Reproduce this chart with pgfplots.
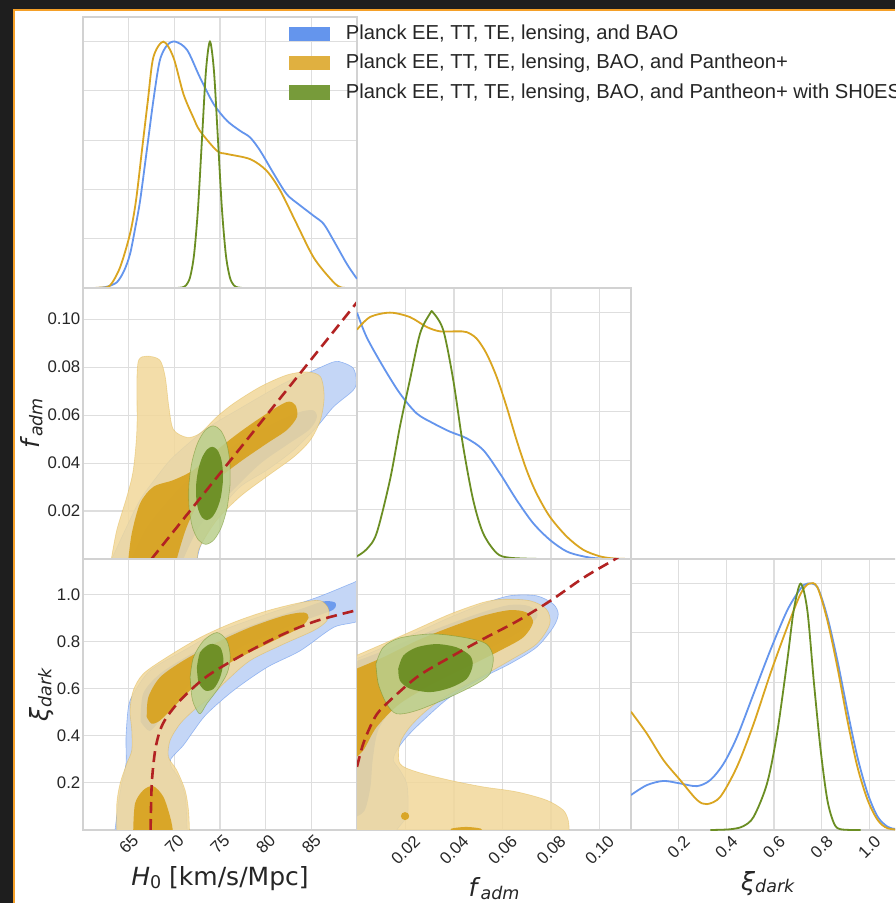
\documentclass[border=0pt]{standalone}
\usepackage{pgfplots}
\pgfplotsset{compat=1.18}
\usepackage{fontspec}
\setmainfont{Liberation Sans}
\newfontfamily\djv{DejaVu Sans}
\definecolor{bgdark}{RGB}{30,30,30}
\definecolor{orframe}{RGB}{245,160,40}
\definecolor{gridc}{RGB}{222,222,222}
\definecolor{framec}{RGB}{210,210,210}
\definecolor{blueL}{RGB}{100,149,237}
\definecolor{blueO}{RGB}{196,214,246}
\definecolor{orL}{RGB}{218,165,32}
\definecolor{orO}{RGB}{241,216,155}
\definecolor{orI}{RGB}{216,161,27}
\definecolor{grL}{RGB}{107,142,35}
\definecolor{grO}{RGB}{186,207,141}
\definecolor{grI}{RGB}{107,142,35}
\definecolor{redd}{RGB}{178,34,34}
\definecolor{legB}{RGB}{100,149,237}
\definecolor{legO}{RGB}{224,176,64}
\definecolor{legG}{RGB}{119,155,58}
\pgfplotsset{
  panel/.style={scale only axis, width=137pt, height=135.5pt, anchor=south west,
    axis line style={draw=framec, line width=0.6pt},
    xmajorgrids, ymajorgrids, major grid style={draw=gridc, line width=0.55pt},
    major tick length=0pt,
    xticklabels={}, yticklabels={},
    tick label style={font=\fontsize{8.4pt}{10pt}\selectfont, text=black!85},
    label style={font=\djv\fontsize{12.5pt}{15pt}\selectfont, text=black!85},
    yticklabel style={anchor=east, inner sep=0pt, xshift=-1.15pt},
    xticklabel style={rotate=45, anchor=center, inner sep=0pt},
    clip=true},
  hx/.style={xmin=60, xmax=90, xtick={65,70,75,80,85}},
  fx/.style={xmin=0, xmax=0.113, xtick={0.02,0.04,0.06,0.08,0.10}},
  kx/.style={xmin=0, xmax=1.15, xtick={0.2,0.4,0.6,0.8,1.0}},
  fy/.style={ymin=0, ymax=0.113, ytick={0.02,0.04,0.06,0.08,0.10}},
  ky/.style={ymin=0, ymax=1.15, ytick={0.2,0.4,0.6,0.8,1.0}},
  dy/.style={ymin=0, ymax=1.1, ytick={0.2,0.4,0.6,0.8,1.0}},
  bo/.style={fill=blueO, draw=blueL, draw opacity=0.6, line width=0.3pt, smooth},
  bi/.style={fill=blueL, fill opacity=0.9, draw=none, smooth},
  oo/.style={fill=orO, fill opacity=0.85, draw=orL, draw opacity=0.35, line width=0.3pt, smooth},
  oi/.style={fill=orI, fill opacity=0.9, draw=none, smooth},
  go/.style={fill=grO, fill opacity=0.85, draw=grL, draw opacity=0.5, line width=0.3pt, smooth},
  gi/.style={fill=grI, fill opacity=0.95, draw=none, smooth},
  rd/.style={draw=redd, line width=1.3pt, dash pattern=on 5.5pt off 3pt, smooth},
  cb/.style={draw=blueL, line width=0.9pt, smooth},
  co/.style={draw=orL, line width=0.9pt, smooth},
  cg/.style={draw=grL, line width=0.9pt, smooth},
}
\begin{document}
\begin{tikzpicture}
\useasboundingbox (0,0) rectangle (447.5pt,451.5pt);
\clip (0,0) rectangle (447.5pt,451.5pt);
\fill[bgdark] (0,0) rectangle (447.5pt,451.5pt);
\fill[orframe] (6.5pt,0) rectangle (447.5pt,447pt);
\fill[white] (7.5pt,0) rectangle (447.5pt,446pt);

% ---------- H0 1D ----------
\begin{axis}[panel, hx, dy, at={(41.5pt,307.5pt)},
  legend style={at={(axis description cs:0.7518,0.9705)}, anchor=north west, draw=none, fill=none,
    inner sep=0pt, outer sep=0pt, row sep=5.85pt, column sep=8.15pt,
    font=\fontsize{10.1pt}{11pt}\selectfont, text=black!85, nodes={inner sep=0pt}},
  legend cell align=left,
  legend image code/.code={\fill[#1, draw=none] (0pt,-3.625pt) rectangle (20.35pt,3.625pt);}]
\addplot[cb, forget plot] coordinates {(60,0) (61.5,0) (62.5,0.004) (63.7,0.023) (64.5,0.07) (65.15,0.138) (65.7,0.24) (66.25,0.354) (66.98,0.557) (67.7,0.76) (68.4,0.922) (69.2,0.985) (70.1,1.0) (71.4,0.966) (72.8,0.855) (74.3,0.747) (75.76,0.679) (77.2,0.638) (78.3,0.611) (79.4,0.557) (80.9,0.463) (82.3,0.381) (83.6,0.34) (85.25,0.293) (86.35,0.26) (87.45,0.192) (88.9,0.097) (90,0.037)};
\addplot[co, forget plot] coordinates {(60,0) (61.1,0) (62.0,0.002) (62.96,0.01) (64.06,0.084) (65.15,0.22) (65.8,0.354) (66.45,0.557) (67.1,0.76) (67.7,0.936) (68.8,1.0) (69.9,0.936) (71.0,0.787) (72.1,0.69) (72.8,0.638) (74.66,0.557) (75.76,0.544) (78.3,0.523) (80.1,0.476) (81.6,0.395) (83.4,0.26) (85.25,0.124) (87.1,0.037) (88.2,0.003) (90,0)};
\addplot[cg, forget plot] coordinates {(69.1,0) (70.42,0.0003) (70.855,0.0022) (71.29,0.0111) (71.725,0.0439) (72.16,0.1353) (72.595,0.3247) (73.03,0.6065) (73.465,0.8825) (73.9,1.0) (74.335,0.8825) (74.77,0.6065) (75.205,0.3247) (75.64,0.1353) (76.075,0.0439) (76.51,0.0111) (76.945,0.0022) (77.38,0.0003) (78.7,0)};
\addlegendimage{fill=legB, draw=none}\addlegendentry{Planck EE, TT, TE, lensing, and BAO}
\addlegendimage{fill=legO, draw=none}\addlegendentry{Planck EE, TT, TE, lensing, BAO, and Pantheon+}
\addlegendimage{fill=legG, draw=none}\addlegendentry{Planck EE, TT, TE, lensing, BAO, and Pantheon+ with SH0ES}
\end{axis}

% ---------- H0 - fadm ----------
\begin{axis}[panel, hx, fy, at={(41.5pt,172pt)},
  yticklabels={0.02,0.04,0.06,0.08,0.10},
  ylabel={\textit{f}\raisebox{-0.1em}{\fontsize{8.75pt}{9pt}\selectfont\textit{adm}}},
  ylabel style={at={(axis description cs:-0.187,0.5)}, anchor=center}]
\addplot[bo] coordinates {(63.15,0) (64.79,0.0135) (66.25,0.0246) (68.08,0.0343) (69.9,0.0426) (73.56,0.0544) (77.2,0.0628) (81.97,0.0732) (84.89,0.078) (87.45,0.0822) (88.5,0.0818) (89.6,0.0795) (89.93,0.0746) (89.6,0.0704) (87.45,0.0635) (85.6,0.0551) (83.06,0.0454) (80.14,0.0371) (77.2,0.0301) (75.02,0.0204) (73.56,0.0107) (72.83,0.0051) (72.5,0) (72.4,-0.004) (63.1,-0.004)} -- cycle;
\addplot[bi] coordinates {(65.3,0) (66.8,0.012) (68.8,0.022) (72,0.035) (76,0.046) (80,0.055) (83.5,0.061) (85.2,0.062) (85.6,0.059) (84.8,0.054) (82.5,0.048) (79.5,0.040) (76.5,0.029) (73,0.015) (71,0) (71,-0.004) (65.3,-0.004)} -- cycle;
\addplot[oo] coordinates {(63.1,0) (63.7,0.0121) (64.8,0.026) (65.5,0.037) (65.9,0.054) (65.9,0.0746) (66.1,0.083) (67.0,0.0846) (68.4,0.083) (69.0,0.076) (69.4,0.0635) (69.9,0.054) (71.4,0.0507) (72.8,0.0524) (74.66,0.0593) (76.5,0.0649) (79.4,0.0718) (82.3,0.0767) (84.5,0.078) (86.0,0.076) (86.4,0.0676) (86.0,0.058) (84.9,0.0496) (83.1,0.0426) (80.1,0.0343) (77.2,0.026) (74.66,0.0163) (72.8,0.0051) (72.5,0) (72.4,-0.004) (63.0,-0.004)} -- cycle;
\addplot[oi] coordinates {(64.97,0) (65.34,0.0107) (66.25,0.0232) (67.71,0.0301) (69.9,0.0329) (72.1,0.0371) (74.66,0.0454) (77.2,0.053) (80.14,0.0607) (82.33,0.0655) (83.25,0.0642) (83.43,0.0593) (82.33,0.0538) (80.14,0.0482) (77.2,0.0405) (74.66,0.0329) (72.83,0.0246) (71.37,0.0135) (70.27,0) (70.2,-0.004) (64.9,-0.004)} -- cycle;
\addplot[go] coordinates {(76.10,0.0308) (76.08,0.0403) (75.72,0.0483) (75.08,0.0536) (74.25,0.0555) (73.36,0.0536) (72.54,0.0483) (71.92,0.0403) (71.60,0.0308) (71.62,0.0213) (71.98,0.0133) (72.62,0.0080) (73.45,0.0061) (74.34,0.0080) (75.16,0.0133) (75.78,0.0213) (76.10,0.0308)} -- cycle;
\addplot[gi] coordinates {(75.30,0.0315) (75.30,0.0374) (75.09,0.0423) (74.68,0.0456) (74.15,0.0468) (73.57,0.0456) (73.04,0.0423) (72.63,0.0374) (72.40,0.0315) (72.40,0.0256) (72.61,0.0207) (73.02,0.0174) (73.55,0.0162) (74.13,0.0174) (74.66,0.0207) (75.08,0.0256) (75.30,0.0315)} -- cycle;
\addplot[rd] coordinates {(67.5,0) (92.3,0.118)};
\end{axis}

% ---------- fadm 1D ----------
\begin{axis}[panel, fx, dy, at={(178.5pt,172pt)}]
\addplot[cb] coordinates {(0,1.0) (0.004,0.90) (0.0108,0.78) (0.0177,0.672) (0.0246,0.591) (0.0314,0.551) (0.0383,0.517) (0.0452,0.49) (0.052,0.443) (0.0589,0.348) (0.0658,0.24) (0.0726,0.146) (0.0795,0.078) (0.0864,0.031) (0.0932,0.011) (0.1,0.002) (0.113,0)};
\addplot[co] coordinates {(0,0.931) (0.00536,0.982) (0.0136,1.0) (0.0218,0.982) (0.0287,0.942) (0.0342,0.924) (0.0411,0.924) (0.0452,0.921) (0.0493,0.895) (0.0534,0.834) (0.0576,0.739) (0.0617,0.618) (0.0658,0.483) (0.0699,0.362) (0.074,0.267) (0.0795,0.172) (0.0864,0.092) (0.0932,0.038) (0.1001,0.011) (0.106,0.002) (0.113,0)};
\addplot[cg] coordinates {(0,0.011) (0.004,0.04) (0.0081,0.105) (0.0136,0.321) (0.0177,0.537) (0.0218,0.726) (0.026,0.915) (0.0301,0.996) (0.0314,1.0) (0.0356,0.928) (0.0397,0.726) (0.0438,0.456) (0.0479,0.24) (0.052,0.105) (0.0576,0.024) (0.063,0.005) (0.076,0)};
\end{axis}

% ---------- H0 - xi ----------
\begin{axis}[panel, hx, ky, at={(41.5pt,36.5pt)},
  xticklabels={65,70,75,80,85}, xticklabel shift=7pt,
  yticklabels={0.2,0.4,0.6,0.8,1.0},
  xlabel={\textit{H}\raisebox{-0.1em}{\fontsize{8.75pt}{9pt}\selectfont 0} [km/s/Mpc]},
  xlabel style={at={(axis description cs:0.5,-0.2066)}, anchor=base},
  ylabel={\textit{ξ}\raisebox{-0.1em}{\fontsize{8.75pt}{9pt}\selectfont\textit{dark}}},
  ylabel style={at={(axis description cs:-0.1496,0.5)}, anchor=center}]
\addplot[bo] coordinates {(63.51,0) (63.87,0.113) (64.24,0.197) (64.71,0.282) (64.71,0.395) (64.97,0.521) (65.52,0.578) (67.35,0.677) (71.0,0.761) (74.66,0.838) (80.14,0.916) (85.62,0.987) (89.64,1.05) (90.6,1.06) (90.6,0.9) (87.45,0.86) (83.8,0.761) (80.14,0.69) (76.48,0.592) (73.56,0.493) (72.1,0.42) (71.0,0.36) (69.6,0.30) (69.7,0.265) (70.5,0.22) (71.2,0.14) (71.4,0) (71.4,-0.03) (63.5,-0.03)} -- cycle;
\addplot[bi] coordinates {(66.3,0.46) (66.6,0.58) (68.5,0.665) (72,0.75) (76,0.83) (80,0.89) (84,0.94) (86.3,0.97) (87.6,0.965) (87.4,0.935) (85,0.9) (81,0.84) (77,0.77) (73.5,0.68) (70.5,0.57) (68.5,0.47) (67.3,0.42) (66.3,0.46)} -- cycle;
\addplot[oo] coordinates {(63.7,0) (63.7,0.113) (64.06,0.197) (64.79,0.282) (65.34,0.338) (65.34,0.423) (65.15,0.507) (65.5,0.592) (66.6,0.663) (69.17,0.733) (72.83,0.817) (76.48,0.881) (80.14,0.93) (83.8,0.965) (85.99,0.973) (86.9,0.937) (86.7,0.888) (85.25,0.846) (81.97,0.789) (78.3,0.719) (75.75,0.634) (73.93,0.564) (72.1,0.507) (70.64,0.451) (69.54,0.381) (69.35,0.31) (70.27,0.254) (71.18,0.169) (71.55,0.085) (71.66,0) (71.66,-0.03) (63.7,-0.03)} -- cycle;
\addplot[oi] coordinates {(66.98,0.479) (67.16,0.564) (68.44,0.648) (71.0,0.719) (74.66,0.796) (78.3,0.86) (81.97,0.909) (84.16,0.923) (84.7,0.902) (83.8,0.86) (80.87,0.803) (77.2,0.733) (74.66,0.677) (72.1,0.606) (69.9,0.521) (68.44,0.465) (67.53,0.451) (66.98,0.479)} -- cycle;
\addplot[oi] coordinates {(65.5,0) (65.7,0.113) (66.6,0.169) (67.7,0.186) (68.8,0.141) (69.54,0.056) (69.83,0) (69.83,-0.03) (65.5,-0.03)} -- cycle;
\addplot[go] coordinates {(71.73,0.648) (72.1,0.733) (73.19,0.803) (74.66,0.838) (75.76,0.803) (76.12,0.733) (75.76,0.663) (74.66,0.592) (73.56,0.536) (72.83,0.493) (72.28,0.521) (71.92,0.564) (71.73,0.648)} -- cycle;
\addplot[gi] coordinates {(72.47,0.69) (72.83,0.754) (73.93,0.789) (75.02,0.775) (75.38,0.719) (75.02,0.648) (74.29,0.599) (73.38,0.592) (72.65,0.627) (72.47,0.69)} -- cycle;
\addplot[rd] coordinates {(67.4,0) (67.53,0.197) (67.9,0.338) (68.44,0.423) (69.17,0.479) (70.64,0.55) (72.83,0.63) (74.66,0.68) (78.3,0.761) (81.97,0.832) (85.62,0.888) (90.4,0.937)};
\end{axis}

% ---------- fadm - xi ----------
\begin{axis}[panel, fx, ky, at={(178.5pt,36.5pt)},
  xticklabels={0.02,0.04,0.06,0.08,0.10}, xticklabel shift=10pt,
  xlabel={\textit{f}\raisebox{-0.1em}{\fontsize{8.75pt}{9pt}\selectfont\textit{adm}}},
  xlabel style={at={(axis description cs:0.5,-0.247)}, anchor=base}]
\addplot[bo] coordinates {(-0.002,0.719) (0.0108,0.775) (0.0246,0.838) (0.0383,0.902) (0.052,0.959) (0.063,0.994) (0.074,0.994) (0.0809,0.959) (0.083,0.916) (0.0809,0.86) (0.074,0.775) (0.063,0.705) (0.052,0.648) (0.0383,0.564) (0.0273,0.465) (0.0205,0.395) (0.0164,0.338) (0.015,0.296) (0.0177,0.254) (0.0205,0.197) (0.0211,0.113) (0.0205,0.056) (0.0164,0.0) (0.0164,-0.03) (-0.002,-0.03)} -- cycle;
\addplot[bi] coordinates {(-0.002,0.71) (0.0108,0.76) (0.0246,0.82) (0.0383,0.875) (0.052,0.925) (0.063,0.955) (0.071,0.95) (0.0745,0.91) (0.07,0.86) (0.06,0.8) (0.045,0.72) (0.03,0.64) (0.017,0.54) (0.009,0.43) (0.0065,0.3) (0.0055,0.18) (0.003,0.08) (-0.002,0.05)} -- cycle;
\addplot[oo] coordinates {(-0.002,0.733) (0.0108,0.79) (0.0246,0.853) (0.0383,0.916) (0.052,0.966) (0.0603,0.979) (0.0713,0.973) (0.0781,0.937) (0.0795,0.874) (0.074,0.789) (0.063,0.719) (0.052,0.655) (0.0383,0.578) (0.0287,0.507) (0.0218,0.437) (0.0177,0.367) (0.0177,0.282) (0.0246,0.247) (0.0383,0.211) (0.052,0.183) (0.0658,0.162) (0.0781,0.127) (0.085,0.085) (0.0871,0.042) (0.0875,0.0) (0.0875,-0.03) (-0.002,-0.03)} -- cycle;
\addplot[oi] coordinates {(-0.002,0.677) (0.0108,0.733) (0.0246,0.803) (0.0383,0.86) (0.052,0.909) (0.063,0.933) (0.0699,0.923) (0.0726,0.881) (0.0685,0.817) (0.0589,0.761) (0.0452,0.69) (0.0314,0.62) (0.0177,0.536) (0.0081,0.437) (0.0026,0.338) (-0.002,0.296)} -- cycle;
\addplot[oi] coordinates {(0.0215,0.059) (0.0210,0.071) (0.0198,0.076) (0.0186,0.071) (0.0181,0.059) (0.0186,0.047) (0.0198,0.042) (0.0210,0.047) (0.0215,0.059)} -- cycle;
\addplot[oi] coordinates {(0.0383,-0.01) (0.039,0.006) (0.045,0.013) (0.051,0.006) (0.052,-0.01)} -- cycle;
\addplot[go] coordinates {(0.0078,0.705) (0.0108,0.775) (0.0177,0.815) (0.0314,0.832) (0.0452,0.815) (0.0534,0.789) (0.0562,0.733) (0.0548,0.663) (0.0493,0.62) (0.0383,0.564) (0.0246,0.507) (0.0164,0.493) (0.0122,0.536) (0.0088,0.62) (0.0078,0.705)} -- cycle;
\addplot[gi] coordinates {(0.017,0.684) (0.0191,0.74) (0.0246,0.775) (0.0328,0.789) (0.0411,0.775) (0.0466,0.74) (0.0477,0.698) (0.0452,0.641) (0.0383,0.603) (0.0301,0.585) (0.0218,0.6) (0.0177,0.634) (0.017,0.684)} -- cycle;
\addplot[rd] coordinates {(0,0.268) (0.0026,0.367) (0.0067,0.465) (0.0107,0.521) (0.0246,0.648) (0.0384,0.733) (0.0521,0.811) (0.066,0.886) (0.0798,0.973) (0.0935,1.071) (0.1059,1.146) (0.108,1.16)};
\end{axis}

% ---------- xi 1D ----------
\begin{axis}[panel, kx, dy, at={(315.5pt,36.5pt)},
  xticklabels={0.2,0.4,0.6,0.8,1.0}, xticklabel shift=8.35pt,
  xlabel={\textit{ξ}\raisebox{-0.1em}{\fontsize{8.75pt}{9pt}\selectfont\textit{dark}}},
  xlabel style={at={(axis description cs:0.5,-0.2214)}, anchor=base}]
\addplot[cb] coordinates {(0,0.142) (0.066,0.182) (0.136,0.199) (0.206,0.189) (0.277,0.178) (0.333,0.203) (0.389,0.27) (0.445,0.378) (0.515,0.554) (0.585,0.73) (0.656,0.892) (0.712,0.98) (0.74,1.0) (0.782,0.986) (0.824,0.865) (0.866,0.689) (0.908,0.486) (0.95,0.297) (0.993,0.149) (1.035,0.054) (1.077,0.013) (1.111,0.004) (1.15,0.001)};
\addplot[co] coordinates {(0,0.48) (0.066,0.392) (0.136,0.284) (0.206,0.203) (0.277,0.122) (0.319,0.105) (0.375,0.135) (0.445,0.257) (0.515,0.432) (0.585,0.635) (0.656,0.824) (0.712,0.959) (0.747,1.0) (0.782,0.986) (0.824,0.851) (0.866,0.662) (0.908,0.446) (0.95,0.257) (0.993,0.122) (1.035,0.041) (1.077,0.007) (1.15,0)};
\addplot[cg] coordinates {(0.333,0) (0.417,0.003) (0.47,0.015) (0.515,0.054) (0.571,0.189) (0.613,0.392) (0.656,0.689) (0.683,0.892) (0.712,1.0) (0.74,0.892) (0.768,0.595) (0.796,0.324) (0.824,0.122) (0.852,0.027) (0.88,0.003) (0.964,0)};
\end{axis}
\end{tikzpicture}
\end{document}
